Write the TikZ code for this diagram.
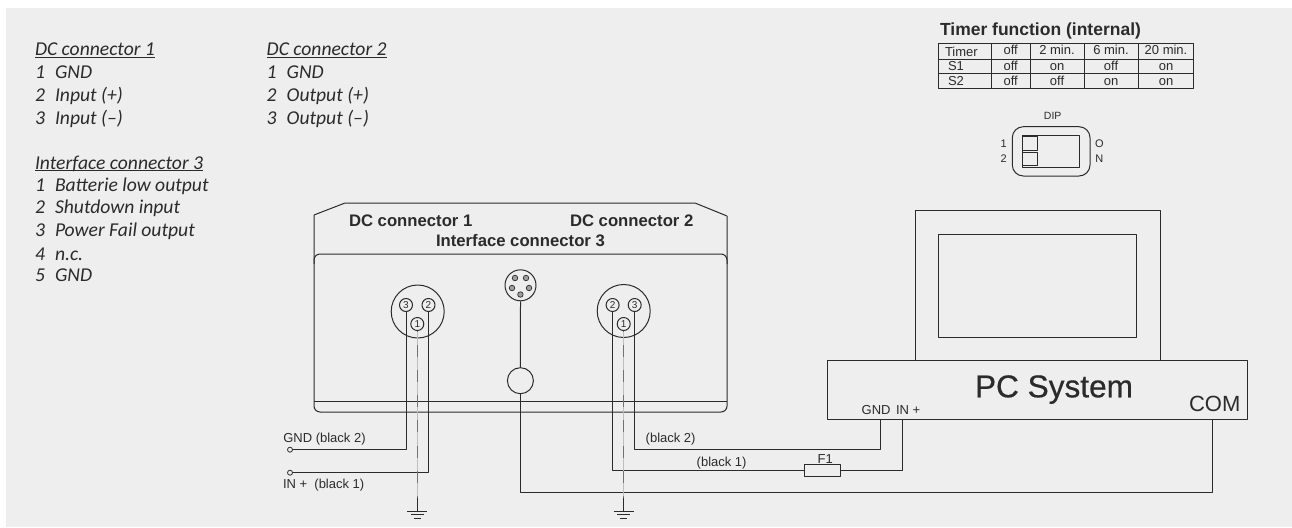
\documentclass[tikz,border=0pt]{standalone}
\usepackage{fontspec}
\setmainfont{Liberation Sans}
\newfontfamily\noteface{Carlito}
\newfontfamily\pcface[FakeBold=0.5]{Liberation Sans}
\definecolor{panel}{HTML}{EEEEEE}
\definecolor{ink}{HTML}{2B2B2B}
\definecolor{wirey}{HTML}{E6C81E}
\definecolor{wireg}{HTML}{1F9E68}
\newcommand{\fs}[1]{\fontsize{#1}{#1}\selectfont}
\newcommand{\noteul}[1]{\underline{\smash{#1}}}
\tikzset{
  every picture/.style={x=1pt,y=-1pt,line join=round},
  ln/.style={draw=ink,line width=1pt},
  txt/.style={inner sep=0pt,outer sep=0pt,text=ink,anchor=base west},
  ctxt/.style={inner sep=0pt,outer sep=0pt,text=ink,anchor=base},
  note/.style={txt,font=\noteface\itshape\fs{19.6}},
  head/.style={txt,font=\bfseries\fs{16.7}},
  small/.style={txt,font=\fs{13}},
  cell/.style={ctxt,font=\fs{13}},
  dipl/.style={ctxt,font=\fs{11}},
  pin/.style={ln,circle,inner sep=0pt,minimum size=13pt,font=\fs{10},text=ink},
  tiny/.style={draw=ink,line width=0.7pt,fill=ink!45,circle,inner sep=0pt,minimum size=5.5pt},
  term/.style={ln,line width=0.8pt,circle,inner sep=0pt,minimum size=5pt},
  plug/.style={ln,circle,inner sep=0pt},
  boxn/.style={ln,inner sep=0pt,anchor=north west},
  tableline/.style={draw=ink,line width=0.8pt},
  yel/.style={draw=wirey,line width=1.3pt},
  grn/.style={draw=wireg,line width=1.3pt,dash pattern=on 12pt off 13.3pt,dash phase=11.8pt},
}
\begin{document}
\begin{tikzpicture}
\useasboundingbox (0,0) rectangle (1292,527);
\fill[white] (0,0) rectangle (1292,527);
\fill[panel] (6,8) rectangle (1292,526.6);

% notes
\node[note] (n1) at (35,56) {\noteul{DC connector 1}};
\foreach \k/\b/\n/\t in {a/78.3/1/GND,b/101/2/Input (+),c/124/3/Input (–)}{
  \node[note] (n1\k) at (35,\b) {\n};
  \node[note] (t1\k) at (55,\b) {\t};
}
\node[note] (n2) at (266.7,56) {\noteul{DC connector 2}};
\foreach \k/\b/\n/\t in {a/78.3/1/GND,b/101/2/Output (+),c/124/3/Output (–)}{
  \node[note] (n2\k) at (266.7,\b) {\n};
  \node[note] (t2\k) at (286.7,\b) {\t};
}
\node[note] (n3) at (35,169) {\noteul{Interface connector 3}};
\foreach \k/\b/\n/\t in {a/191.7/1/Batterie low output,b/213.7/2/Shutdown input,c/236.7/3/Power Fail output,d/260/4/n.c.,e/281.7/5/GND}{
  \node[note] (n3\k) at (35,\b) {\n};
  \node[note] (t3\k) at (55,\b) {\t};
}

% timer table
\node[txt,font=\bfseries\fs{17.5}] (ttitle) at (940,35.7) {Timer function (internal)};
\draw[tableline] (938.3,43.3) rectangle (1193.3,88);
\draw[tableline] (938.3,59) -- (1193.3,59) (938.3,73.3) -- (1193.3,73.3);
\foreach \x in {991.7,1030,1084.3,1138.3} \draw[tableline] (\x,43.3) -- (\x,88);
\node[small] (c00) at (945,56.7) {Timer};
\node[cell] (c01) at (1010.7,55) {off};
\node[cell] (c02) at (1057,55) {2 min.};
\node[cell] (c03) at (1111,55) {6 min.};
\node[cell] (c04) at (1166,55) {20 min.};
\node[small] (c10) at (948,70.7) {S1};
\node[cell] (c11) at (1010.7,70.7) {off};
\node[cell] (c12) at (1057,70.7) {on};
\node[cell] (c13) at (1111,70.7) {off};
\node[cell] (c14) at (1166,70.7) {on};
\node[small] (c20) at (948,85) {S2};
\node[cell] (c21) at (1010.7,85) {off};
\node[cell] (c22) at (1057,85) {off};
\node[cell] (c23) at (1111,85) {on};
\node[cell] (c24) at (1166,85) {on};

% DIP
\node[dipl,font=\fs{10.5}] (diplab) at (1052.7,119.7) {DIP};
\draw[ln,rounded corners=11pt] (1012.3,126.7) rectangle (1090,176);
\draw[ln] (1022.3,135) rectangle (1079,167.7);
\draw[ln] (1022.3,136.7) rectangle (1037.7,150.3);
\draw[ln] (1022.3,152) rectangle (1037.7,165.7);
\node[dipl] (d1) at (1003.7,147.3) {1};
\node[dipl] (d2) at (1003.7,162.7) {2};
\node[dipl] (dO) at (1099.3,147.3) {O};
\node[dipl] (dN) at (1099.3,162.7) {N};

% device
\draw[ln] (314,215) -- (345,203) -- (695,203) -- (727,216);
\draw[ln,rounded corners=6pt] (314,215) -- (314,412) -- (727,412) -- (727,216);
\draw[ln,rounded corners=6pt] (314,264) -- (314,254) -- (727,254) -- (727,264);
\draw[ln] (314,401) -- (727,401);
\node[head] (hd1) at (349,226) {DC connector 1};
\node[head] (hd2) at (570,226) {DC connector 2};
\node[head] (hd3) at (436,246) {Interface connector 3};

% connectors on device
\node[plug,minimum size=53pt] (c1) at (417.7,311.5) {};
\node[pin] (c1p3) at (406,305) {3};
\node[pin] (c1p2) at (428.5,305) {2};
\node[pin] (c1p1) at (417.3,324) {1};
\node[plug,minimum size=53pt] (c2) at (623.7,311) {};
\node[pin] (c2p2) at (612.6,305) {2};
\node[pin] (c2p3) at (634.7,305) {3};
\node[pin] (c2p1) at (623.7,324) {1};
\node[plug,minimum size=31pt] (c3) at (520.5,285.3) {};
\node[tiny] (c3a) at (515,278) {};
\node[tiny] (c3b) at (526,278) {};
\node[tiny] (c3c) at (512,288) {};
\node[tiny] (c3d) at (529,288) {};
\node[tiny] (c3e) at (520.4,294.5) {};
\node[plug,minimum size=26pt] (hole) at (520.4,380.7) {};

% PC
\node[boxn,minimum width=245pt,minimum height=150pt] (mon) at (914.7,210) {};
\node[boxn,minimum width=198pt,minimum height=103pt] (scr) at (938.3,233.7) {};
\node[boxn,minimum width=420pt,minimum height=58.7pt] (pc) at (827.3,360) {};
\node[ctxt,font=\pcface\fs{31.6}] (pcl) at (1054,397.3) {PC System};
\node[txt,font=\fs{22}] (com) at (1189,411.7) {COM};
\node[small] (pcg) at (861.7,414) {GND};
\node[small] (pci) at (896,414) {IN +};
\coordinate (pcgnd) at (880.3,418.7);
\coordinate (pcin) at (902.3,418.7);
\coordinate (pccom) at (1212.7,418.7);

% left wires
\node[term] (tg) at (290,449.7) {};
\node[term] (ti) at (290,472.7) {};
\draw[ln] (c1p3.south) |- (tg.east);
\draw[ln] (c1p2.south) |- (ti.east);
\node[small] (lg) at (283.3,442) {GND (black 2)};
\node[small] (li) at (283,488) {IN +\ \ (black 1)};

% right wires
\node[ln,inner sep=0pt,minimum width=36pt,minimum height=12.3pt,anchor=north west] (f1) at (804.3,464) {};
\node[small] (f1l) at (817.7,463.3) {F1};
\draw[ln] (c2p2.south) |- (f1.west);
\draw[ln] (f1.east) -| (pcin);
\draw[ln] (c2p3.south) |- (645,449.7) -| (pcgnd);
\node[small] (lb2) at (645.7,442) {(black 2)};
\node[small] (lb1) at (696.7,466) {(black 1)};

% COM wire
\draw[ln] (c3.south) -- (hole.north);
\draw[ln] (hole.south) |- (600,492.2) -| (pccom);

% earth
\foreach \p/\q/\x in {c1p1/e1/417.3,c2p1/e2/623.7}{
  \coordinate (\q s) at (\x,498);
  \coordinate (\q b) at (\x,511);
  \draw[yel] (\p.south) -- (\q s);
  \draw[grn] (\p.south) -- (\q s);
  \draw[ln] (\q s) -- (\q b);
  \draw[ln] (\x-10,511) -- (\x+10,511);
  \draw[ln] (\x-6.5,514.5) -- (\x+6.5,514.5);
  \draw[ln] (\x-3.5,518) -- (\x+3.5,518);
}
\end{tikzpicture}
\end{document}
